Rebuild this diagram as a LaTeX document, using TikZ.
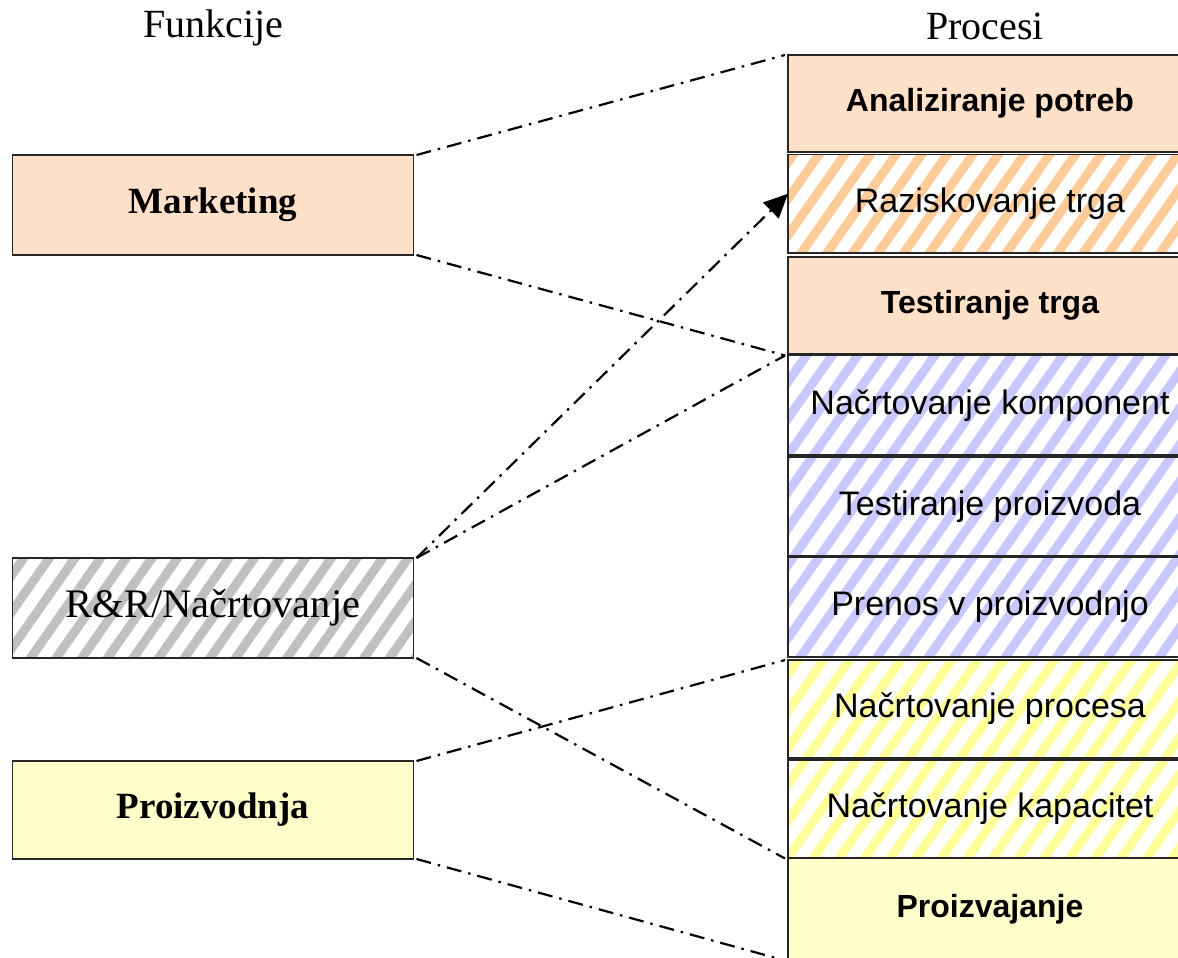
\documentclass[tikz,border=0pt]{standalone}
\usepackage{fontspec}
\setmainfont{Liberation Serif}
\newfontfamily\arialf{Liberation Sans}
\usetikzlibrary{patterns.meta,arrows.meta}
\definecolor{peach}{HTML}{FFE0C8}
\definecolor{orstripe}{HTML}{FFCC99}
\definecolor{blstripe}{HTML}{C8C8FF}
\definecolor{yestripe}{HTML}{FFFF99}
\definecolor{ylight}{HTML}{FFFFCC}
\definecolor{grstripe}{HTML}{C0C0C0}
\begin{document}
\begin{tikzpicture}[x=1pt,y=-1pt,
 lbox/.style={draw=black!85,line width=1.5pt,minimum width=401pt,minimum height=100pt,anchor=north west,inner sep=0pt,outer sep=0pt,font=\fontsize{40.5}{46}\selectfont},
 lbold/.style={font=\bfseries\fontsize{37}{44}\selectfont},
 rbox/.style={draw=black!85,line width=1.5pt,minimum width=404pt,anchor=north west,inner sep=0pt,outer sep=0pt,font=\arialf\fontsize{34}{40}\selectfont},
 rbold/.style={font=\arialf\bfseries\fontsize{32}{38}\selectfont},
 stripes/.style={preaction={fill=white},pattern={Lines[angle=55,distance=21pt,line width=9pt]},pattern color=#1},
 link/.style={line width=2.2pt,dash pattern=on 15pt off 7pt on 2.5pt off 7pt},
 title/.style={font=\fontsize{40}{46}\selectfont}
]
\useasboundingbox (0,0) rectangle (1178,958);
\fill[white] (0,0) rectangle (1178,958);
\clip (0,0) rectangle (1178,958);

\node[title] (tf) at (213,28) {Funkcije};
\node[title] (tp) at (985,26) {Procesi};

\node[lbox,lbold,fill=peach] (mk) at (12.5,155) {Marketing};
\node[lbox,stripes=grstripe] (rr) at (12.5,558) {R\&R/Načrtovanje};
\node[lbox,lbold,fill=ylight,minimum height=98pt] (pr) at (12.5,761) {Proizvodnja};

\node[rbox,rbold,fill=peach,minimum height=97pt] (p1) at (788,55) {Analiziranje potreb};
\node[rbox,stripes=orstripe,minimum height=98.5pt] (p2) at (788,154.5) {Raziskovanje trga};
\node[rbox,rbold,fill=peach,minimum height=97pt] (p3) at (788,257) {Testiranje trga};
\node[rbox,stripes=blstripe,minimum height=99.5pt] (p4) at (788,355.5) {Načrtovanje komponent};
\node[rbox,stripes=blstripe,minimum height=99pt] (p5) at (788,457) {Testiranje proizvoda};
\node[rbox,stripes=blstripe,minimum height=100pt] (p6) at (788,557) {Prenos v proizvodnjo};
\node[rbox,stripes=yestripe,minimum height=98pt] (p7) at (788,660) {Načrtovanje procesa};
\node[rbox,stripes=yestripe,minimum height=98pt] (p8) at (788,760) {Načrtovanje kapacitet};
\node[rbox,rbold,fill=ylight,minimum height=102pt] (p9) at (788,858.5) {Proizvajanje};

\draw[link] ([xshift=3pt]mk.north east) -- ([xshift=-3pt]p1.north west);
\draw[link] ([xshift=3pt]mk.south east) -- ([xshift=-3pt]p4.north west);
\draw[link,-{Triangle[length=24pt,width=22pt]}] ([xshift=3pt]rr.north east) -- ([yshift=10pt]p2.west);
\draw[link] ([xshift=3pt]rr.north east) -- ([xshift=-3pt]p4.north west);
\draw[link] ([xshift=3pt]rr.south east) -- ([xshift=-3pt]p9.north west);
\draw[link] ([xshift=3pt]pr.north east) -- ([xshift=-3pt]p7.north west);
\draw[link] ([xshift=3pt]pr.south east) -- ([xshift=-3pt]p9.south west);
\end{tikzpicture}
\end{document}
